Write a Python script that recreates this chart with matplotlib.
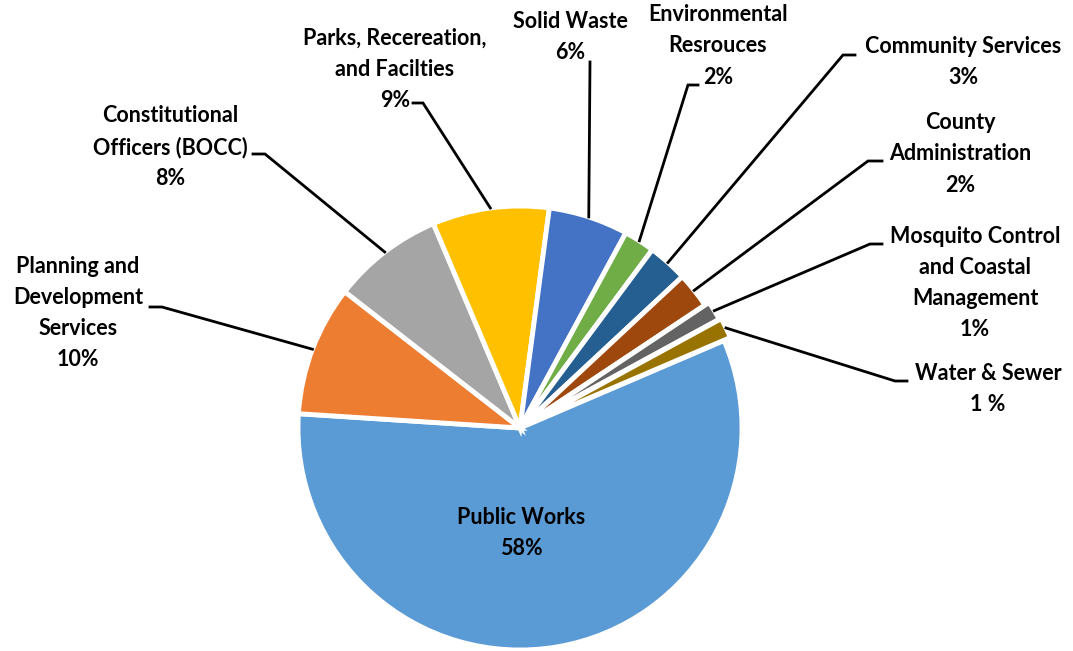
import numpy as np
import matplotlib
matplotlib.use("Agg")
import matplotlib.pyplot as plt

plt.rcParams["font.family"] = ["Lato", "DejaVu Sans"]

# slices in clockwise order starting from the right side of the pie
departments = [
    "Public Works",
    "Planning and\nDevelopment\nServices",
    "Constitutional\nOfficers (BOCC)",
    "Parks, Recereation,\nand Facilties",
    "Solid Waste",
    "Environmental\nResrouces",
    "Community Services",
    "County\nAdministration",
    "Mosquito Control\nand Coastal\nManagement",
    "Water & Sewer",
]
shares = [57.5, 9.5, 8.1, 8.5, 5.8, 2.25, 2.9, 2.6, 1.4, 1.5]
pct_labels = ["58%", "10%", "8%", "9%", "6%", "2%", "3%", "2%", "1%", "1 %"]
colors = ["#5B9BD5", "#ED7D31", "#A5A5A5", "#FFC000", "#4472C4",
          "#70AD47", "#255E91", "#9E480E", "#636363", "#997300"]

W, H = 1073, 651
CX, CY, R = 520, H - 428, 222

# label block centre (pixels from top) and leader line (text end, elbow)
label_pos = [
    (521, 533, None),
    (78, 313, [(150, 307), (162, 307)]),
    (170, 147, [(253, 154), (265, 154)]),
    (395, 69, [(413, 103), (423, 103)]),
    (570, 37, [(590, 62), (590, 62)]),
    (718, 46, [(698, 85), (688, 85)]),
    (963, 62, [(855, 55), (843, 55)]),
    (960, 154, [(882, 161), (868, 161)]),
    (975, 283, [(882, 244), (870, 244)]),
    (988, 389, [(907, 381), (895, 381)]),
]
explode = [0, 0, 0, 0, 0, 0, 0, 0, 5, 7]

fig = plt.figure(figsize=(W / 100, H / 100), dpi=100)
ax = fig.add_axes([0, 0, 1, 1])

wedges, _ = ax.pie(shares, colors=colors, startangle=23.2, counterclock=False,
                   center=(CX, CY), radius=R, explode=explode,
                   wedgeprops=dict(edgecolor="white", linewidth=3.5))

for w, name, pct, (lx, ly, leader) in zip(wedges, departments, pct_labels, label_pos):
    ax.text(lx, H - ly, f"{name}\n{pct}", ha="center", va="center",
            fontsize=15.5, fontweight="bold", linespacing=1.6, color="black")
    if leader is None:
        continue
    mid = np.deg2rad((w.theta1 + w.theta2) / 2)
    sx = w.center[0] + w.r * np.cos(mid)
    sy = w.center[1] + w.r * np.sin(mid)
    (tx, ty), (ex, ey) = leader
    ax.plot([tx, ex, sx], [H - ty, H - ey, sy], color="black", lw=2,
            solid_joinstyle="miter")

ax.set_xlim(0, W)
ax.set_ylim(0, H)
ax.set_aspect("equal")
ax.axis("off")

fig.savefig("out.png", dpi=100, facecolor="white")
